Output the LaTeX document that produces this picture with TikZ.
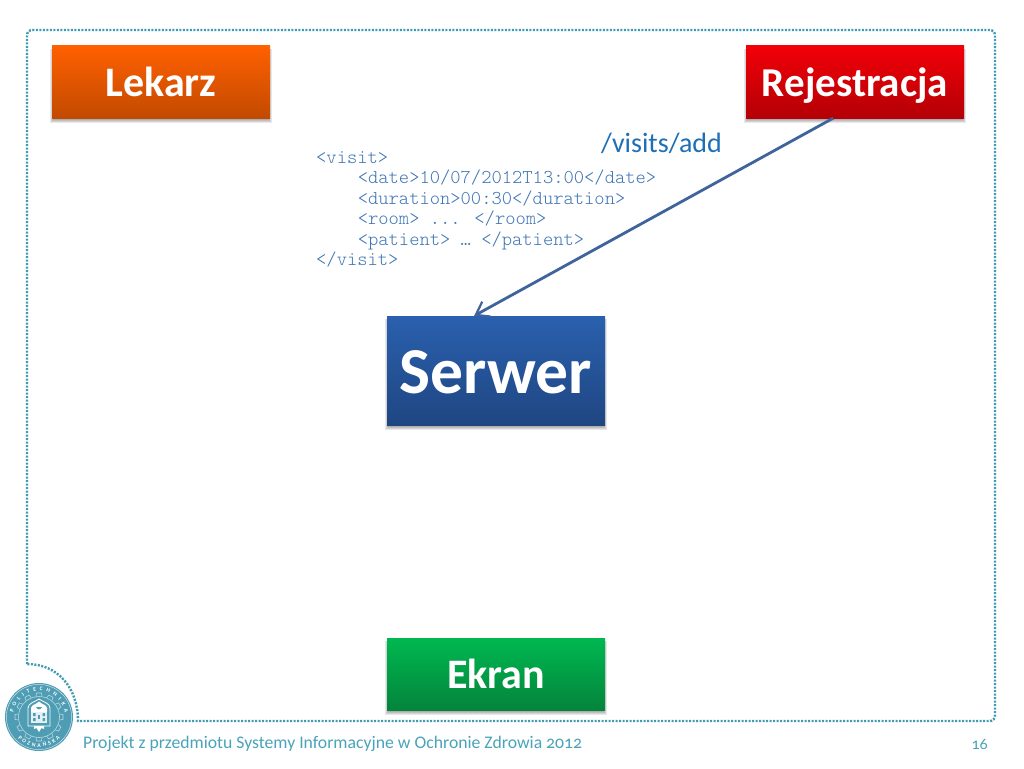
\documentclass[tikz,border=0pt]{standalone}
\usepackage{fontspec}
\setmainfont{Carlito}[Numbers=OldStyle]
\newfontfamily\codefont{Latin Modern Mono Light}
\usetikzlibrary{calc,arrows.meta,decorations.text,backgrounds}
\definecolor{frameteal}{HTML}{3F9AB2}
\definecolor{sealteal}{HTML}{4E9DB4}
\definecolor{footteal}{HTML}{4AA3BA}
\definecolor{linkblue}{HTML}{1F6FB5}
\definecolor{codeblue}{HTML}{3F75B5}
\definecolor{arrowblue}{HTML}{3F649C}
\definecolor{orangetop}{HTML}{FF6000}
\definecolor{orangebot}{HTML}{C24A00}
\definecolor{redtop}{HTML}{F20008}
\definecolor{redbot}{HTML}{B40006}
\definecolor{bluetop}{HTML}{2A60AE}
\definecolor{bluebot}{HTML}{1F4682}
\definecolor{greentop}{HTML}{00B850}
\definecolor{greenbot}{HTML}{04843C}
\newcommand{\tileshade}[1]{%
  \begin{scope}[on background layer]
    \foreach \r in {0.5,1.5,2.5,3.5}{
      \fill[black,opacity=.09] ($(#1.north west)+(-\r+1.5,3)$) rectangle ($(#1.south east)+(\r-1.5,\r+1)$);
    }
  \end{scope}}
\tikzset{
  x=1pt,y=-1pt,
  tile/.style={minimum width=218pt,inner sep=0pt,text=white,text height=39pt,text depth=10pt},
  label35/.style={font=\bfseries\fontsize{42}{44}\selectfont},
  frame/.style={draw=frameteal,line width=2.4pt,dash pattern=on 2pt off 1.5pt},
  code/.style={anchor=base west,inner sep=0pt,text=codeblue,font=\codefont\fontsize{19.6}{20}\selectfont},
}
\begin{document}
\begin{tikzpicture}
\useasboundingbox (0,0) rectangle (1024,768);
\begin{scope}[on background layer]
  \fill[white] (0,0) rectangle (1024,768);
\end{scope}
% dotted frame
\draw[frame] (27,664) -- (27,36) .. controls (27,32) and (29,30) .. (33,30) -- (989,30)
   .. controls (993,30) and (995,32) .. (995,36) -- (995,715)
   .. controls (995,719) and (993,721) .. (989,721) -- (78,721)
   .. controls (78,688) and (58,664) .. (27,664);
% boxes
\node[tile,label35,minimum height=72pt,top color=orangetop,bottom color=orangebot] (lek) at (161,82) {Lekarz};
\node[tile,minimum height=72pt,font=\bfseries\fontsize{41}{44}\selectfont,top color=redtop,bottom color=redbot] (reg) at (855,82) {Rejestracja};
\node[tile,minimum height=109pt,text height=65pt,text depth=20pt,font=\bfseries\fontsize{65.5}{66}\selectfont,top color=bluetop,bottom color=bluebot] (srv) at (496,370.5) {Serwer};
\node[tile,label35,minimum height=72pt,top color=greentop,bottom color=greenbot] (ekr) at (496,674) {Ekran};
\tileshade{lek}\tileshade{reg}\tileshade{srv}\tileshade{ekr}
% connector
\coordinate (from) at ($(reg.south west)!0.4!(reg.south east)$);
\coordinate (to) at ($(srv.north west)!0.4!(srv.north east)$);
\draw[arrowblue,line width=2.8pt,-{Straight Barb[length=12pt,width=17pt,line width=2.2pt]}] (from) -- (to);
% labels
\node[anchor=west,inner sep=0pt,text=linkblue,font=\fontsize{28}{28}\selectfont] (path) at (601,143) {/visits/add};
\node[code] (c1) at (316,163) {<visit>};
\node[code] (c2) at (357.6,183.5) {<date>10/07/2012T13:00</date>};
\node[code] (c3) at (357.6,204) {<duration>00:30</duration>};
\node[code] (c4) at (357.6,224.5) {<room> ... </room>};
\node[code] (c5) at (357.6,245) {<patient> … </patient>};
\node[code] (c6) at (316,265.5) {</visit>};
% footer
\node[anchor=west,inner sep=0pt,text=footteal,font=\fontsize{17.7}{18}\selectfont] (foot) at (83,744) {Projekt z przedmiotu Systemy Informacyjne w Ochronie Zdrowia 2012};
\node[anchor=east,inner sep=0pt,text=footteal,font=\fontsize{16}{16}\selectfont] (page) at (988,744) {16};
% seal
\begin{scope}[shift={(39,717)},x=1pt,y=1pt]
  \fill[sealteal] (0,0) circle[radius=34];
  \draw[white!70!sealteal,line width=.5pt] (0,0) circle[radius=32.6];
  \foreach \a in {0,30,...,330} {
    \draw[white!60!sealteal,line width=.6pt,rotate=\a] (-3,20.5) -- (-2.4,24) -- (2.4,24) -- (3,20.5);
  }
  \draw[white!60!sealteal,line width=.6pt] (0,0) circle[radius=20.5];
  \draw[white,line width=.8pt] (-11,9) -- (-11,-9) -- (11,-9) -- (11,9) .. controls (11,14) and (4,15) .. (0,18) .. controls (-4,15) and (-11,14) .. (-11,9) -- cycle;
  \fill[white!85!sealteal] (-8,-6) rectangle (8,5);
  \fill[white] (-8,5) -- (8,5) -- (8,9) .. controls (8,12) and (2,13) .. (0,15.5) .. controls (-2,13) and (-8,12) .. (-8,9) -- cycle;
  \fill[sealteal] (-6,-4) rectangle (-3.5,-1) (3.5,-4) rectangle (6,-1) (-6,1) rectangle (-3.5,4) (3.5,1) rectangle (6,4);
  \fill[sealteal] (-1.4,-2) rectangle (1.4,2);
  \fill[sealteal] (-3,10) .. controls (-2,7) and (2,7) .. (3,10) -- cycle;
  \fill[white] (-5,-9) -- (-5,-12) -- (-2.5,-11) -- (0,-15) -- (2.5,-11) -- (5,-12) -- (5,-9) -- cycle;
  \path[postaction={decorate,decoration={text along path,text align={fit to path},
     text={|\fontsize{5.6}{5.6}\selectfont\bfseries\color{white}|POLITECHNIKA}}}]
     (-25.6,4.5) arc[start angle=170,end angle=10,radius=26];
  \path[postaction={decorate,decoration={text along path,text align={fit to path},
     text={|\fontsize{5.6}{5.6}\selectfont\bfseries\color{white}|POZNAŃSKA}}}]
     (-21.2,-21.2) arc[start angle=225,end angle=315,radius=30];
\end{scope}
\end{tikzpicture}
\end{document}
